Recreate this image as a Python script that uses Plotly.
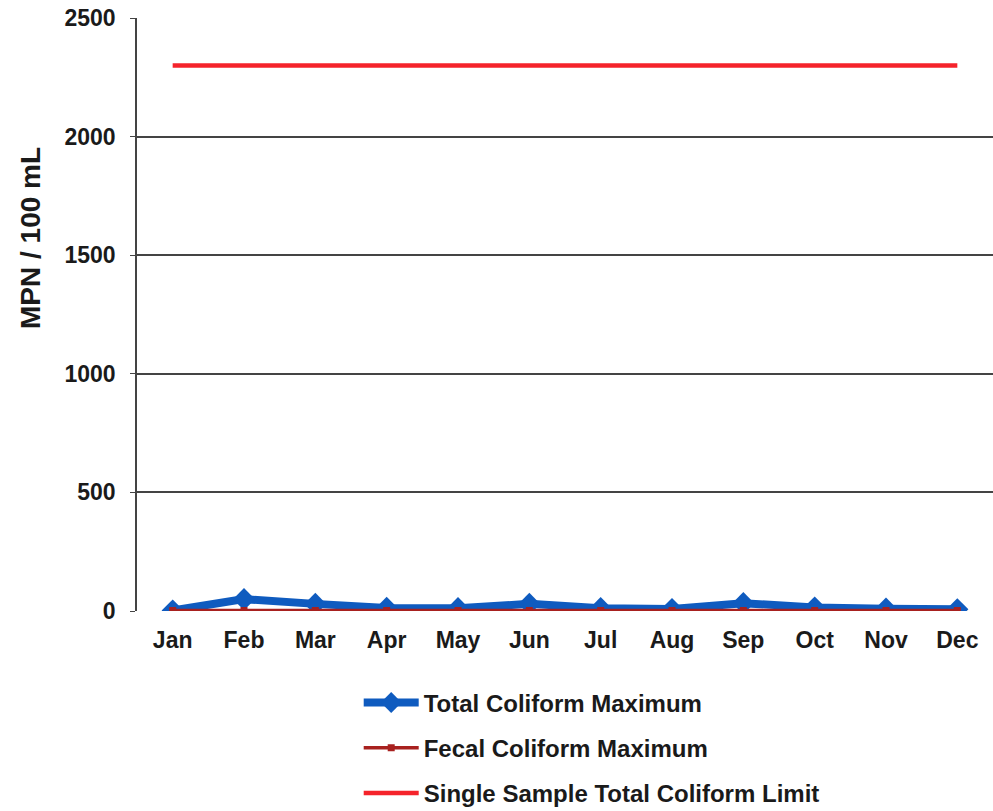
import plotly.graph_objects as go

months = ["Jan", "Feb", "Mar", "Apr", "May", "Jun",
          "Jul", "Aug", "Sep", "Oct", "Nov", "Dec"]
total_coliform_max = [2, 50, 30, 13, 12, 30, 12, 8, 33, 15, 10, 7]
fecal_coliform_max = [2, 2, 2, 2, 2, 2, 2, 2, 2, 2, 2, 2]
single_sample_limit = [2300] * 12

FONT = "Liberation Sans, Arial, sans-serif"
TXT = "#1a1a1a"

fig = go.Figure()

fig.add_trace(go.Scatter(
    x=months, y=total_coliform_max, name="Total Coliform Maximum",
    mode="lines+markers",
    line=dict(color="#0f5bbf", width=8),
    marker=dict(symbol="diamond", size=17, color="#0f5bbf"),
    legendgroup="a",
))
fig.add_trace(go.Scatter(
    x=months, y=fecal_coliform_max, name="Fecal Coliform Maximum",
    mode="lines+markers",
    line=dict(color="#a8211f", width=3.5),
    marker=dict(symbol="square", size=7, color="#a8211f"),
    legendgroup="b",
))
fig.add_trace(go.Scatter(
    x=months, y=single_sample_limit, name="Single Sample Total Coliform Limit",
    mode="lines",
    line=dict(color="#f5232b", width=4.5),
    legendgroup="c",
))

fig.update_layout(
    width=993, height=811,
    margin=dict(l=137, r=0, t=18, b=200, autoexpand=False),
    paper_bgcolor="white", plot_bgcolor="white",
    font=dict(family=FONT, color=TXT),
    showlegend=True,
    legend=dict(
        x=0.259, xanchor="left", y=-0.117, yanchor="top",
        font=dict(family=FONT, size=24, color=TXT, weight="bold"),
        traceorder="grouped", tracegroupgap=11,
        itemwidth=55, bgcolor="rgba(0,0,0,0)",
    ),
    annotations=[dict(
        text="MPN / 100 mL", textangle=-90,
        xref="paper", yref="paper", x=-0.125, y=0.629,
        xanchor="center", yanchor="middle", showarrow=False,
        font=dict(family=FONT, size=28, color=TXT, weight="bold"),
    )],
)

fig.update_xaxes(
    type="category", range=[-0.5, 11.5], automargin=False,
    showgrid=False, showline=False, zeroline=False,
    ticks="", tickfont=dict(family=FONT, size=23, color=TXT, weight="bold"),
    ticklabelstandoff=13,
)
fig.update_yaxes(
    range=[0, 2500], dtick=500, automargin=False,
    showgrid=True, gridcolor="#444444", gridwidth=1.6,
    showline=True, linecolor="#444444", linewidth=1.6,
    zeroline=False,
    ticks="outside", ticklen=5, tickcolor="#444444",
    tickfont=dict(family=FONT, size=23, color=TXT, weight="bold"),
    ticklabelstandoff=10,
)

fig.write_html("out.html")
